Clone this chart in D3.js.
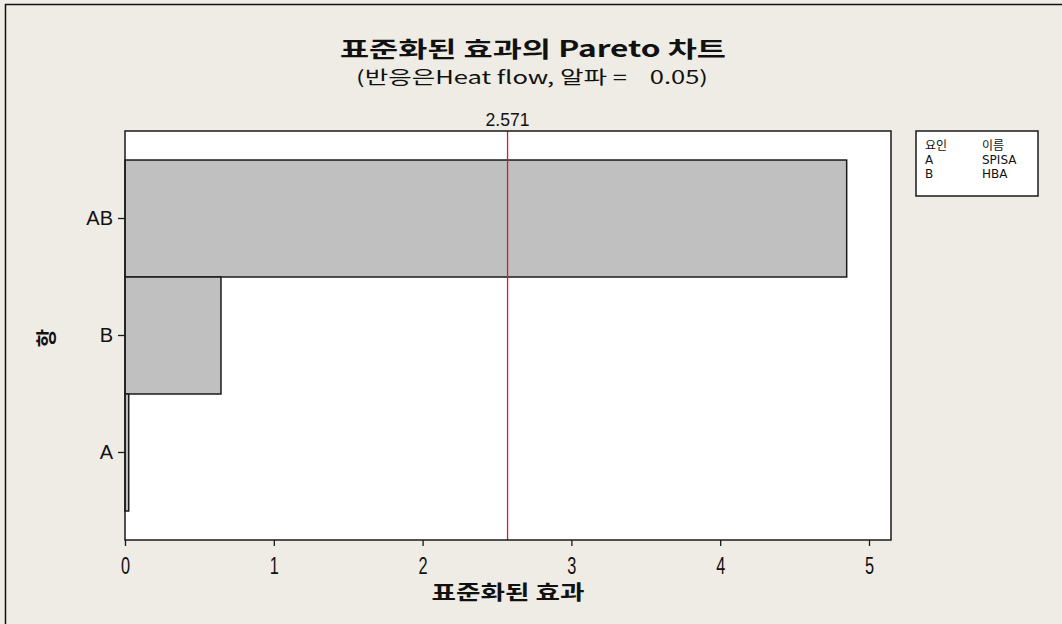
<!DOCTYPE html>
<html>
<head>
<meta charset="utf-8">
<script src="https://cdn.jsdelivr.net/npm/d3@7"></script>
<style>
  html, body { margin: 0; padding: 0; background: #efece5; }
  svg { display: block; }
  .kr { font-family: "Noto Sans CJK KR", "Noto Sans", sans-serif; }
</style>
</head>
<body>
<svg id="chart" width="1062" height="624"></svg>
<script>
// Pareto chart of standardized effects
const terms = ["AB", "B", "A"];
const effects = [4.85, 0.645, 0.025];
const xTicks = [0, 1, 2, 3, 4, 5];
const criticalValue = 2.571;
const legendHeader = ["요인", "이름"];
const legendFactors = ["A", "B"];
const legendNames = ["SPISA", "HBA"];

const svg = d3.select("#chart");
const W = 1062, H = 624;
const plot = { left: 125, right: 891, top: 131, bottom: 540 };

// page background and frame
svg.append("rect").attr("x", 0).attr("y", 0).attr("width", W).attr("height", H).attr("fill", "#efece5");
svg.append("path").attr("d", `M5.5,${H} V4.5 H${W}`).attr("fill", "none").attr("stroke", "#111").attr("stroke-width", 1.5);

const x = d3.scaleLinear().domain([0, 766 / 148.8]).range([plot.left, plot.right]);
const y = d3.scaleBand().domain(terms).range([plot.top, plot.bottom]).paddingInner(0).paddingOuter(0.248);

// plot area
svg.append("rect")
  .attr("x", plot.left).attr("y", plot.top)
  .attr("width", plot.right - plot.left).attr("height", plot.bottom - plot.top)
  .attr("fill", "#ffffff");

// bars
svg.append("g").selectAll("rect")
  .data(terms.map((t, i) => ({ term: t, value: effects[i] })))
  .join("rect")
  .attr("x", x(0))
  .attr("y", d => y(d.term))
  .attr("width", d => x(d.value) - x(0))
  .attr("height", y.bandwidth())
  .attr("fill", "#c0c0c0")
  .attr("stroke", "#1a1a1a")
  .attr("stroke-width", 1.5);

// critical value reference line
svg.append("line")
  .attr("x1", x(criticalValue)).attr("x2", x(criticalValue))
  .attr("y1", plot.top).attr("y2", plot.bottom)
  .attr("stroke", "#d21f1f").attr("stroke-width", 1.3);
svg.append("text")
  .attr("x", x(criticalValue)).attr("y", 126)
  .attr("text-anchor", "middle").attr("font-family", "Liberation Sans, Arial, sans-serif")
  .attr("font-size", 18).attr("fill", "#111")
  .attr("textLength", 44).attr("lengthAdjust", "spacingAndGlyphs")
  .text(criticalValue.toFixed(3));

// plot frame
svg.append("rect")
  .attr("x", plot.left).attr("y", plot.top)
  .attr("width", plot.right - plot.left).attr("height", plot.bottom - plot.top)
  .attr("fill", "none").attr("stroke", "#1a1a1a").attr("stroke-width", 1.5);

// x axis
const xAxis = svg.append("g")
  .attr("transform", `translate(0,${plot.bottom})`)
  .call(d3.axisBottom(x).tickValues(xTicks).tickFormat(d3.format("d")).tickSize(6).tickPadding(11));
xAxis.select(".domain").remove();
xAxis.selectAll("line").attr("stroke", "#1a1a1a").attr("stroke-width", 1.3);
xAxis.selectAll("text")
  .attr("font-family", "Liberation Sans, Arial, sans-serif")
  .attr("font-size", 24).attr("fill", "#111")
  .attr("transform", "scale(0.68,1)");

// y axis
const yAxis = svg.append("g")
  .attr("transform", `translate(${plot.left},0)`)
  .call(d3.axisLeft(y).tickSize(7).tickPadding(5));
yAxis.select(".domain").remove();
yAxis.selectAll("line").attr("stroke", "#1a1a1a").attr("stroke-width", 1.3);
yAxis.selectAll("text").attr("font-family", "Liberation Sans, Arial, sans-serif").attr("font-size", 20).attr("fill", "#111");

// titles
svg.append("text").attr("class", "kr")
  .attr("x", 533).attr("y", 57).attr("text-anchor", "middle")
  .attr("font-size", 22).attr("font-weight", "bold").attr("fill", "#111")
  .attr("textLength", 386).attr("lengthAdjust", "spacingAndGlyphs")
  .text("표준화된 효과의 Pareto 차트");
svg.append("text").attr("class", "kr")
  .attr("x", 532).attr("y", 84).attr("text-anchor", "middle")
  .attr("font-size", 18).attr("fill", "#111").attr("xml:space", "preserve")
  .attr("textLength", 352).attr("lengthAdjust", "spacingAndGlyphs")
  .text("(반응은Heat flow, 알파 =    0.05)");
svg.append("text").attr("class", "kr")
  .attr("x", 508).attr("y", 600).attr("text-anchor", "middle")
  .attr("font-size", 20).attr("font-weight", "bold").attr("fill", "#111")
  .attr("textLength", 153).attr("lengthAdjust", "spacingAndGlyphs")
  .text("표준화된 효과");
svg.append("text").attr("class", "kr")
  .attr("transform", "translate(45,338) rotate(-90)")
  .attr("text-anchor", "middle").attr("dominant-baseline", "central")
  .attr("font-size", 20).attr("font-weight", "bold").attr("fill", "#111")
  .text("항");

// legend
const lg = svg.append("g").attr("transform", "translate(916,131)");
lg.append("rect").attr("x", 0).attr("y", 0).attr("width", 122).attr("height", 65)
  .attr("fill", "#ffffff").attr("stroke", "#1a1a1a").attr("stroke-width", 1.5);
const rows = [legendHeader].concat(legendFactors.map((f, i) => [f, legendNames[i]]));
rows.forEach((r, i) => {
  lg.append("text").attr("font-family", "DejaVu Sans, Noto Sans CJK KR, sans-serif")
    .attr("x", 9).attr("y", 19 + i * 14)
    .attr("font-size", 12).attr("fill", "#111").text(r[0]);
  lg.append("text").attr("font-family", "DejaVu Sans, Noto Sans CJK KR, sans-serif")
    .attr("x", 66).attr("y", 19 + i * 14)
    .attr("font-size", 12).attr("fill", "#111").text(r[1]);
});
</script>
</body>
</html>
